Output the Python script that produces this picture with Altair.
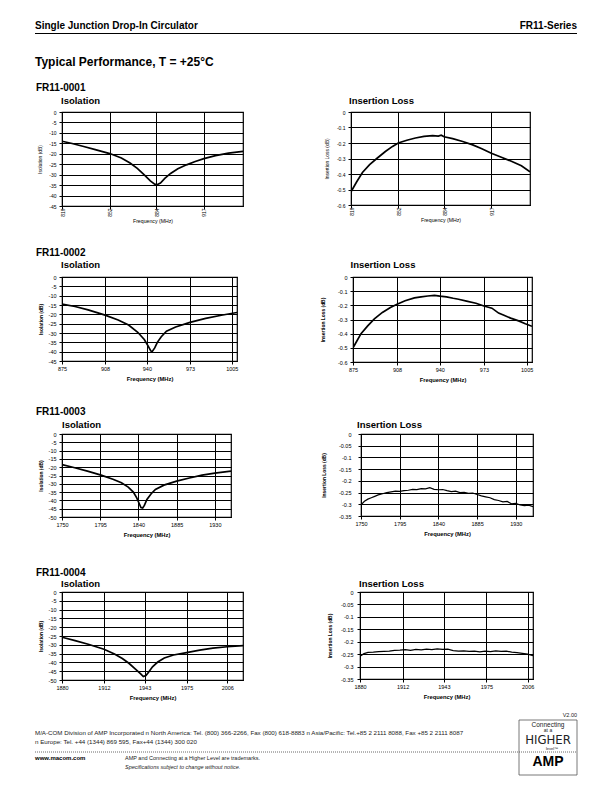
import altair as alt
import pandas as pd

FONT = "Liberation Sans"

# ---------------- text ----------------
HEADER_LEFT = "Single Junction Drop-In Circulator"
HEADER_RIGHT = "FR11-Series"
SECTION = "Typical Performance, T = +25°C"
MODELS = ["FR11-0001", "FR11-0002", "FR11-0003", "FR11-0004"]
ISO_TITLE = "Isolation"
IL_TITLE = "Insertion Loss"
ISO_YTITLE = "Isolation (dB)"
IL_YTITLE = "Insertion Loss (dB)"
XTITLE_1 = "Frequency  (MHz)"
XTITLE = "Frequency (MHz)"
VERSION = "V2.00"
FOOT_1 = ("M/A-COM Division of AMP Incorporated   n  North America: Tel. (800) 366-2266, Fax (800) 618-8883  n  "
          "Asia/Pacific: Tel.+85 2 2111 8088, Fax +85 2 2111 8087")
FOOT_2 = "n  Europe: Tel. +44 (1344) 869 595, Fax+44 (1344) 300 020"
FOOT_WEB = "www.macom.com"
FOOT_TM = "AMP and Connecting at a Higher Level are trademarks."
FOOT_SPEC = "Specifications subject to change without notice."

# ---------------- data ----------------
iso1_f = [819, 826, 834, 842, 852, 860, 866, 871, 876, 880, 883, 885, 887, 890, 894, 899, 905, 911, 917, 925, 934, 944]
iso1_v = [-14.0, -15.1, -16.5, -18.0, -19.9, -22.0, -24.4, -27.0, -30.2, -33.0, -34.5, -34.7, -34.0, -31.8,
          -29.4, -27.2, -25.3, -23.7, -22.3, -20.9, -19.7, -18.8]
il1_f = [819, 823, 827, 832, 837, 843, 848, 852, 858, 864, 870, 876, 880, 882, 884, 890, 897, 904, 910, 917, 924, 931, 938, 944]
il1_v = [-0.515, -0.45, -0.39, -0.34, -0.30, -0.255, -0.222, -0.200, -0.182, -0.168, -0.157, -0.153, -0.155,
         -0.150, -0.160, -0.172, -0.190, -0.212, -0.236, -0.266, -0.292, -0.318, -0.347, -0.385]

iso2_f = [875, 885, 895, 908, 918, 926, 933, 938, 941, 943, 944, 946, 948, 951, 955, 962, 973, 985, 997, 1009]
iso2_v = [-14.5, -15.8, -17.6, -20.4, -23.0, -25.7, -29.6, -33.5, -37.0, -39.6, -40.0, -38.0, -35.0, -32.0,
          -29.0, -26.8, -24.3, -22.2, -20.5, -19.0]
il2_f = [875, 878, 881, 886, 891, 897, 903, 908, 914, 921, 926, 931, 936, 940, 945, 950, 954, 960, 967, 973,
         979, 984, 988, 993, 999, 1004, 1009]
il2_v = [-0.50, -0.45, -0.40, -0.345, -0.295, -0.25, -0.215, -0.193, -0.168, -0.147, -0.14, -0.134, -0.13,
         -0.135, -0.14, -0.15, -0.157, -0.17, -0.185, -0.205, -0.22, -0.255, -0.27, -0.29, -0.31, -0.33, -0.348]

iso3_f = [1750, 1765, 1780, 1796, 1810, 1820, 1828, 1834, 1838, 1841, 1843, 1845, 1847, 1850, 1855, 1860,
          1870, 1885, 1900, 1915, 1930, 1949]
iso3_v = [-18.4, -20.3, -22.4, -24.8, -27.3, -29.4, -32.0, -35.0, -38.5, -42.0, -44.3, -44.6, -43.0, -39.4,
          -36.0, -33.4, -30.8, -28.4, -26.5, -24.8, -23.6, -22.4]
il3_f = [1750, 1754, 1758, 1762, 1766, 1770, 1775, 1780, 1785, 1790, 1795, 1800, 1805, 1810, 1815, 1820,
         1825, 1830, 1835, 1840, 1845, 1850, 1855, 1860, 1865, 1870, 1875, 1880, 1885, 1890, 1895, 1900,
         1905, 1910, 1915, 1920, 1925, 1930, 1935, 1940, 1945, 1950]
il3_v = [-0.302, -0.287, -0.278, -0.272, -0.266, -0.260, -0.255, -0.250, -0.247, -0.244, -0.245, -0.242,
         -0.240, -0.236, -0.237, -0.233, -0.234, -0.229, -0.236, -0.238, -0.237, -0.242, -0.246, -0.244,
         -0.250, -0.249, -0.253, -0.252, -0.258, -0.264, -0.268, -0.272, -0.280, -0.284, -0.290, -0.288,
         -0.298, -0.296, -0.303, -0.306, -0.304, -0.310]

iso4_f = [1880, 1890, 1900, 1912, 1920, 1926, 1931, 1936, 1940, 1942, 1944, 1946, 1949, 1953, 1958, 1965,
          1975, 1985, 1995, 2006, 2018]
iso4_v = [-25.7, -27.6, -29.7, -32.5, -35.2, -37.8, -40.5, -43.8, -46.5, -48.0, -47.4, -45.6, -42.5, -39.8,
          -37.5, -35.8, -34.4, -33.0, -31.9, -31.1, -30.5]
il4_f = [1880, 1883, 1886, 1890, 1894, 1898, 1902, 1906, 1910, 1914, 1918, 1922, 1926, 1930, 1934, 1938,
         1942, 1946, 1950, 1954, 1958, 1962, 1966, 1970, 1974, 1978, 1982, 1986, 1990, 1994, 1998, 2002,
         2006, 2010]
il4_v = [-0.258, -0.248, -0.243, -0.242, -0.240, -0.239, -0.238, -0.235, -0.234, -0.232, -0.235, -0.231,
         -0.233, -0.230, -0.232, -0.229, -0.231, -0.230, -0.236, -0.238, -0.237, -0.239, -0.238, -0.241,
         -0.238, -0.240, -0.237, -0.239, -0.238, -0.242, -0.244, -0.247, -0.250, -0.256]

# axis ticks
x_ticks_1 = [819, 852, 884, 917]
x_ticks_2 = [875, 908, 940, 973, 1005]
x_ticks_3 = [1750, 1795, 1840, 1885, 1930]
x_ticks_4 = [1880, 1912, 1943, 1975, 2006]
y_iso_45 = [0, -5, -10, -15, -20, -25, -30, -35, -40, -45]
y_iso_50 = [0, -5, -10, -15, -20, -25, -30, -35, -40, -45, -50]
y_il_6 = [0, -0.1, -0.2, -0.3, -0.4, -0.5, -0.6]
y_il_35 = [0, -0.05, -0.1, -0.15, -0.2, -0.25, -0.3, -0.35]

LABEL_EXPR = "datum.value == 0 ? '0' : toString(datum.value)"


def panel(f, v, p):
    df = pd.DataFrame({"freq": f, "val": v})
    xaxis = alt.Axis(values=p["xticks"], format="d", title=p["xtitle"], labelAngle=p["angle"],
                     labelFontSize=p["lfs"], titleFontSize=p["xtfs"], titleFontWeight=p["tw"],
                     titlePadding=p["xtp"], labelPadding=p["xlp"], grid=True, labelFlush=False,
                     labelOverlap=False, tickSize=3)
    yaxis = alt.Axis(values=p["yticks"], labelExpr=LABEL_EXPR, title=p["ytitle"],
                     labelFontSize=p["lfs"], titleFontSize=p["ytfs"], titleFontWeight=p["tw"],
                     titlePadding=p["ytp"], labelPadding=p["ylp"], minExtent=p["ext"], maxExtent=p["ext"],
                     grid=True, labelFlush=False, labelOverlap=False, tickSize=3)
    return (
        alt.Chart(df)
        .mark_line(color="black", strokeWidth=p["sw"], clip=True)
        .encode(
            x=alt.X("freq:Q", scale=alt.Scale(domain=p["xdom"], nice=False, zero=False), axis=xaxis),
            y=alt.Y("val:Q", scale=alt.Scale(domain=p["ydom"], nice=False, zero=False), axis=yaxis),
        )
        .properties(
            width=p["w"], height=p["h"],
            title=alt.TitleParams(p["title"], anchor="start", frame="group", fontSize=9.5,
                                  fontWeight="bold", offset=p["toff"], dx=p["tdx"]),
        )
    )


def base(**kw):
    d = dict(angle=0, lfs=5.5, xtfs=5.8, ytfs=4.9, tw="bold", xtp=4, xlp=2, ytp=6, ylp=3, ext=13,
             sw=1.7, toff=7, tdx=-2)
    d.update(kw)
    return d


iso1 = panel(iso1_f, iso1_v, base(title=ISO_TITLE, ytitle=ISO_YTITLE, xtitle=XTITLE_1, xticks=x_ticks_1,
                                  xdom=[819, 944], yticks=y_iso_45, ydom=[-45, 0], w=181, h=94, angle=270,
                                  lfs=5, xtfs=5.2, tw="normal", xtp=2, xlp=-1, ext=12, ytp=8, toff=5,
                                  tdx=-1))
il1 = panel(il1_f, il1_v, base(title=IL_TITLE, ytitle=IL_YTITLE, xtitle=XTITLE_1, xticks=x_ticks_1,
                               xdom=[819, 944], yticks=y_il_6, ydom=[-0.6, 0], w=179, h=93, angle=270,
                               lfs=5, xtfs=5.2, tw="normal", xtp=2, xlp=-1, ext=14, ytp=8, toff=5,
                               tdx=-2))

iso2 = panel(iso2_f, iso2_v, base(title=ISO_TITLE, ytitle=ISO_YTITLE, xtitle=XTITLE, xticks=x_ticks_2,
                                  xdom=[875, 1009], yticks=y_iso_45, ydom=[-45, 0], w=175, h=84,
                                  ext=13, ytp=6, toff=6, tdx=-1))
il2 = panel(il2_f, il2_v, base(title=IL_TITLE, ytitle=IL_YTITLE, xtitle=XTITLE, xticks=x_ticks_2,
                               xdom=[875, 1009], yticks=y_il_6, ydom=[-0.6, 0], w=179, h=85,
                               ext=14, ytp=14, toff=6, tdx=-2.5))

iso3 = panel(iso3_f, iso3_v, base(title=ISO_TITLE, ytitle=ISO_YTITLE, xtitle=XTITLE, xticks=x_ticks_3,
                                  xdom=[1750, 1949], yticks=y_iso_50, ydom=[-50, 0], w=169, h=83,
                                  ext=13, ytp=6, toff=3, tdx=0))
il3 = panel(il3_f, il3_v, base(title=IL_TITLE, ytitle=IL_YTITLE, xtitle=XTITLE, xticks=x_ticks_3,
                               xdom=[1750, 1950], yticks=y_il_35, ydom=[-0.35, 0], w=172, h=82,
                               ext=23, ylp=7, ytp=12, toff=3, tdx=-4, sw=1.2))

iso4 = panel(iso4_f, iso4_v, base(title=ISO_TITLE, ytitle=ISO_YTITLE, xtitle=XTITLE, xticks=x_ticks_4,
                                  xdom=[1880, 2018], yticks=y_iso_50, ydom=[-50, 0], w=181, h=88,
                                  ext=13, ytp=6, toff=1.5, tdx=-1))
il4 = panel(il4_f, il4_v, base(title=IL_TITLE, ytitle=IL_YTITLE, xtitle=XTITLE, xticks=x_ticks_4,
                               xdom=[1880, 2010], yticks=y_il_35, ydom=[-0.35, 0], w=173, h=87,
                               ext=20, ylp=4, ytp=8, toff=1.5, tdx=-1, sw=1.2))


def row(label, a, b, spacing, offset):
    return alt.hconcat(a, b, spacing=spacing,
                       title=alt.TitleParams(label, anchor="start", frame="group", fontSize=10,
                                             fontWeight="bold", offset=offset, dx=-26))


row1 = row(MODELS[0], iso1, il1, 79, 2)
row2 = row(MODELS[1], iso2, il2, 80, 1)
row3 = row(MODELS[2], iso3, il3, 88, 2)
row4 = row(MODELS[3], iso4, il4, 82, 0)

L = -27    # left edge of the text column, relative to the plot origin
R = 515    # right edge of the text column


def txt(s, x, y, size, weight="normal", align="left", style="normal", font=FONT, color="black"):
    return (
        alt.Chart(pd.DataFrame({"t": [s]}))
        .mark_text(align=align, baseline="alphabetic", fontSize=size, fontWeight=weight, fontStyle=style,
                   font=font, color=color)
        .encode(text="t:N", x=alt.value(x), y=alt.value(y))
    )


def hrule(x1, x2, y, width=1.0, dash=None, color="black"):
    kw = dict(color=color, strokeWidth=width)
    if dash:
        kw["strokeDash"] = dash
    return (
        alt.Chart(pd.DataFrame({"a": [0]}))
        .mark_rule(**kw)
        .encode(x=alt.value(x1), x2=alt.value(x2), y=alt.value(y))
    )


NOSTROKE = alt.ViewBackground(stroke="transparent")

header = alt.layer(
    txt(HEADER_LEFT, L, 10, 10, "bold"),
    txt(HEADER_RIGHT, R, 10, 10, "bold", align="right"),
    hrule(L, R, 14.5, 1.2),
    txt(SECTION, L, 47, 12, "bold"),
).properties(width=R, height=50, view=NOSTROKE)

logo_box = (
    alt.Chart(pd.DataFrame({"a": [0]}))
    .mark_rect(fill="white", stroke="#555555", strokeWidth=0.8)
    .encode(x=alt.value(457), x2=alt.value(R), y=alt.value(13), y2=alt.value(68))
)

NARROW = "Liberation Sans Narrow, DejaVu Sans Condensed, Liberation Sans"
LX = 486

footer = alt.layer(
    txt(VERSION, R, 10, 5.5, align="right", color="#222222"),
    txt(FOOT_1, L, 28, 6.2, color="#222222"),
    txt(FOOT_2, L, 37, 6.2, color="#222222"),
    logo_box,
    txt("Connecting", LX, 20, 6.5, align="center", color="#222222"),
    txt("at a", LX, 25, 5, align="center", color="#222222"),
    txt("HIGHER", LX, 36.5, 13, align="center", font=NARROW, color="#222222"),
    txt("level\u2122", LX + 4, 43, 4, align="center", color="#222222"),
    hrule(L, R, 45, 0.8, dash=[1, 1], color="#444444"),
    txt(FOOT_WEB, L, 53, 6, "bold"),
    txt(FOOT_TM, 63, 53, 5.5, color="#222222"),
    txt(FOOT_SPEC, 63, 62, 5.5, style="italic", color="#222222"),
    txt("AMP", LX, 59, 14, 900, align="center"),
).properties(width=R, height=70, view=NOSTROKE)

body = header
for blk, gap in zip([row1, row2, row3, row4, footer], [12, 22, 23, 30, 5]):
    body = alt.vconcat(body, blk, spacing=gap)

chart = (
    body.properties(padding={"left": 25, "top": 10, "right": 0, "bottom": 0})
    .configure_view(stroke="black", strokeWidth=1.2)
    .configure_axis(domainColor="black", domainWidth=1, gridColor="black", gridWidth=1, gridOpacity=1,
                    tickColor="black", tickWidth=1, labelColor="black", titleColor="black",
                    labelFont=FONT, titleFont=FONT)
    .configure_title(font=FONT, color="black")
)

chart.save("out.html", embed_options={"renderer": "svg", "actions": False})
